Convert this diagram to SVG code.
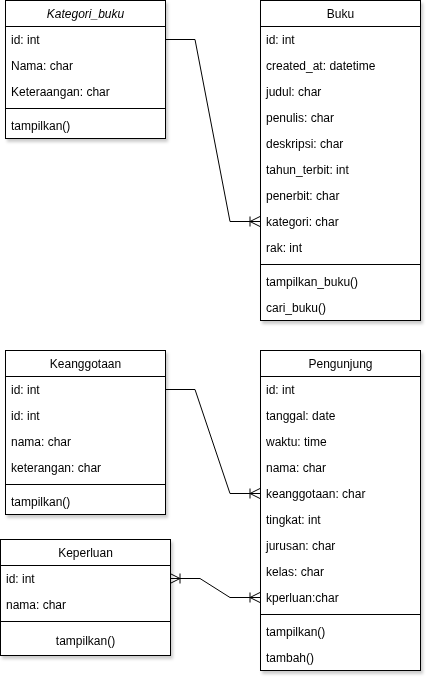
<svg xmlns="http://www.w3.org/2000/svg" width="432" height="685" viewBox="0 0 432 685">
<style>
.box{fill:#fff;stroke:#000;stroke-width:1}
.ln{stroke:#000;stroke-width:1;fill:none}
text{font-family:"Liberation Sans",Arial,Helvetica,sans-serif;font-size:12px;fill:#000}
.h{text-anchor:middle}
.c{text-anchor:middle}
.it{font-style:italic}
</style>
<defs>
<filter id="sh" x="-10%" y="-10%" width="120%" height="120%">
<feDropShadow dx="2" dy="3" stdDeviation="1.5" flood-color="#000" flood-opacity="0.2"/>
</filter>
<marker id="many" markerUnits="userSpaceOnUse" markerWidth="14" markerHeight="14" viewBox="0 0 14 14" refX="12" refY="7" orient="auto" overflow="visible">
<path d="M2,7 L12,2 M2,7 L12,12 M2,2 L2,12" stroke="#000" stroke-width="1" fill="none"/>
</marker>
<marker id="manyS" markerUnits="userSpaceOnUse" markerWidth="14" markerHeight="14" viewBox="0 0 14 14" refX="12" refY="7" orient="auto-start-reverse" overflow="visible">
<path d="M2,7 L12,2 M2,7 L12,12 M2,2 L2,12" stroke="#000" stroke-width="1" fill="none"/>
</marker>
</defs>
<rect width="432" height="685" fill="#fff"/>

<g id="connectors">
<path class="ln" d="M165,39.5 L195,39.5 L230,221.5 L260,221.5" marker-end="url(#many)"/>
<path class="ln" d="M165,389.5 L195,389.5 L230,493.5 L260,493.5" marker-end="url(#many)"/>
<path class="ln" d="M170,578.5 L200,578.5 L230,597.5 L260,597.5" marker-start="url(#manyS)" marker-end="url(#many)"/>
</g>

<g id="kategori_buku" filter="url(#sh)">
<rect class="box" x="5.5" y="0.5" width="160" height="138"/>
<line class="ln" x1="5.5" y1="26.5" x2="165.5" y2="26.5"/>
<line class="ln" x1="5.5" y1="108.5" x2="165.5" y2="108.5"/>
<text class="h it" x="85.5" y="17.5">Kategori_buku</text>
<text x="11" y="43.5">id: int</text>
<text x="11" y="69.5">Nama: char</text>
<text x="11" y="95.5">Keteraangan: char</text>
<text x="11" y="129.5">tampilkan()</text>
</g>

<g id="buku" filter="url(#sh)">
<rect class="box" x="260.5" y="0.5" width="160" height="320"/>
<line class="ln" x1="260.5" y1="26.5" x2="420.5" y2="26.5"/>
<line class="ln" x1="260.5" y1="264.5" x2="420.5" y2="264.5"/>
<text class="h" x="340.5" y="17.5">Buku</text>
<text x="266" y="43.5">id: int</text>
<text x="266" y="69.5">created_at: datetime</text>
<text x="266" y="95.5">judul: char</text>
<text x="266" y="121.5">penulis: char</text>
<text x="266" y="147.5">deskripsi: char</text>
<text x="266" y="173.5">tahun_terbit: int</text>
<text x="266" y="199.5">penerbit: char</text>
<text x="266" y="225.5">kategori: char</text>
<text x="266" y="251.5">rak: int</text>
<text x="266" y="285.5">tampilkan_buku()</text>
<text x="266" y="311.5">cari_buku()</text>
</g>

<g id="keanggotaan" filter="url(#sh)">
<rect class="box" x="5.5" y="350.5" width="160" height="164"/>
<line class="ln" x1="5.5" y1="376.5" x2="165.5" y2="376.5"/>
<line class="ln" x1="5.5" y1="484.5" x2="165.5" y2="484.5"/>
<text class="h" x="85.5" y="367.5">Keanggotaan</text>
<text x="11" y="393.5">id: int</text>
<text x="11" y="419.5">id: int</text>
<text x="11" y="445.5">nama: char</text>
<text x="11" y="471.5">keterangan: char</text>
<text x="11" y="505.5">tampilkan()</text>
</g>

<g id="keperluan" filter="url(#sh)">
<rect class="box" x="0.5" y="539.5" width="170" height="116"/>
<line class="ln" x1="0.5" y1="565.5" x2="170.5" y2="565.5"/>
<line class="ln" x1="0.5" y1="621.5" x2="170.5" y2="621.5"/>
<text class="h" x="85.5" y="556.5">Keperluan</text>
<text x="6" y="582.5">id: int</text>
<text x="6" y="608.5">nama: char</text>
<text class="c" x="85.5" y="644.5">tampilkan()</text>
</g>

<g id="pengunjung" filter="url(#sh)">
<rect class="box" x="260.5" y="350.5" width="160" height="320"/>
<line class="ln" x1="260.5" y1="376.5" x2="420.5" y2="376.5"/>
<line class="ln" x1="260.5" y1="614.5" x2="420.5" y2="614.5"/>
<text class="h" x="340.5" y="367.5">Pengunjung</text>
<text x="266" y="393.5">id: int</text>
<text x="266" y="419.5">tanggal: date</text>
<text x="266" y="445.5">waktu: time</text>
<text x="266" y="471.5">nama: char</text>
<text x="266" y="497.5">keanggotaan: char</text>
<text x="266" y="523.5">tingkat: int</text>
<text x="266" y="549.5">jurusan: char</text>
<text x="266" y="575.5">kelas: char</text>
<text x="266" y="601.5">kperluan:char</text>
<text x="266" y="635.5">tampilkan()</text>
<text x="266" y="661.5">tambah()</text>
</g>
</svg>
